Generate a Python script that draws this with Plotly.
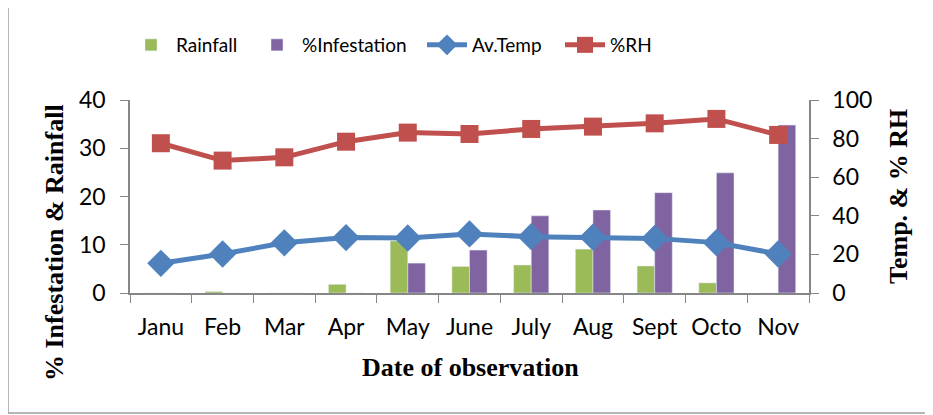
import plotly.graph_objects as go

months = ["Janu", "Feb", "Mar", "Apr", "May", "June", "July", "Aug", "Sept", "Octo", "Nov"]
rainfall = [0, 0.3, 0, 1.8, 10.8, 5.5, 5.8, 9.1, 5.6, 2.1, 0]
infestation = [0, 0, 0, 0, 6.2, 8.9, 16.0, 17.2, 20.8, 24.9, 34.8]
av_temp = [15.4, 20.2, 26.0, 28.7, 28.5, 30.6, 29.2, 28.9, 28.3, 26.1, 20.2]
rh = [77.6, 68.6, 70.3, 78.4, 83.1, 82.4, 85.0, 86.2, 87.9, 90.2, 81.9]

left_ticks = [0, 10, 20, 30, 40]
right_ticks = [0, 20, 40, 60, 80, 100]

# the page body has an 8px default margin; size the figure to fit the 933x415 window
OFF = 8
W, H = 933 - OFF, 415 - OFF
# plot area in window pixels: x 130..809, y 100..293
L, R, T, B = 130 - OFF, W - (809 - OFF), 100 - OFF, H - (293 - OFF)
pw, ph = W - L - R, H - T - B

def px(X):
    return (X - OFF - L) / pw

def py(Y):
    return (H - B - (Y - OFF)) / ph

fig = go.Figure()
fig.add_trace(go.Bar(x=months, y=rainfall, name="Rainfall", marker_color="#9BBB59", yaxis="y",
                     legend="legend"))
fig.add_trace(go.Bar(x=months, y=infestation, name="%Infestation", marker_color="#8064A2", yaxis="y",
                     legend="legend2"))
fig.add_trace(go.Scatter(x=months, y=av_temp, name="Av.Temp", mode="lines+markers", yaxis="y2",
                         line=dict(color="#4F81BD", width=5),
                         marker=dict(symbol="diamond", size=21, color="#4F81BD"), legend="legend3"))
fig.add_trace(go.Scatter(x=months, y=rh, name="%RH", mode="lines+markers", yaxis="y2",
                         line=dict(color="#C0504D", width=5),
                         marker=dict(symbol="square", size=18, color="#C0504D"), legend="legend4"))

axcol = "#868686"
tickfont = dict(family="Lato", size=23, color="black")
legfont = dict(family="Lato", size=19, color="black")

def leg(X):
    return dict(orientation="h", x=px(X), y=py(45), xanchor="left", yanchor="middle",
                font=legfont, itemwidth=40, bgcolor="rgba(0,0,0,0)", borderwidth=0)

fig.update_layout(
    width=W, height=H,
    margin=dict(l=L, r=R, t=T, b=B, autoexpand=False),
    paper_bgcolor="white", plot_bgcolor="white",
    barmode="group", bargap=0.43, bargroupgap=0,
    showlegend=True,
    legend=leg(126), legend2=leg(252), legend3=leg(422), legend4=leg(560),
    xaxis=dict(range=[-0.5, len(months) - 0.5], showline=True, linecolor=axcol, linewidth=1.5,
               ticks="outside", tickson="boundaries",
               ticklen=8, tickcolor=axcol, tickfont=tickfont, showgrid=False, zeroline=False,
               tickangle=0, ticklabelstandoff=13),
    yaxis=dict(range=[0, 40], tickvals=left_ticks, showline=True, linecolor=axcol, linewidth=1.5,
               ticks="outside", ticklen=8, tickcolor=axcol, tickfont=tickfont, showgrid=False,
               zeroline=False, ticklabelstandoff=10),
    yaxis2=dict(range=[0, 100], tickvals=right_ticks, overlaying="y", side="right", showline=True,
                linecolor=axcol, linewidth=1.5, ticks="outside", ticklen=8, tickcolor=axcol,
                tickfont=tickfont, showgrid=False, zeroline=False, ticklabelstandoff=9),
)

titlefont = dict(family="Liberation Serif", size=26, color="black")
fig.add_annotation(text="<b>Date of observation</b>", xref="paper", yref="paper",
                   x=px(470), y=py(367), showarrow=False, font=titlefont,
                   xanchor="center", yanchor="middle")
fig.add_annotation(text="<b>% Infestation & Rainfall</b>", xref="paper", yref="paper",
                   x=px(54), y=py(243), showarrow=False, font=titlefont, textangle=-90,
                   xanchor="center", yanchor="middle")
fig.add_annotation(text="<b>Temp. & % RH</b>", xref="paper", yref="paper",
                   x=px(898), y=py(197), showarrow=False, font=titlefont, textangle=-90,
                   xanchor="center", yanchor="middle")

fig.add_shape(type="rect", xref="paper", yref="paper",
              x0=px(8), x1=px(945), y0=py(413), y1=py(7),
              line=dict(color="#A0A0A0", width=1.5), fillcolor="rgba(0,0,0,0)", layer="below")

fig.write_html("out.html")
